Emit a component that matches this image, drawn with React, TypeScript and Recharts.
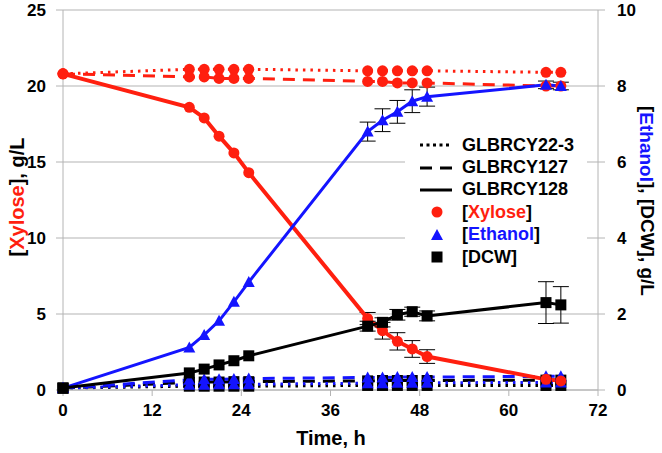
import React from 'react';
import { LineChart, Line, XAxis, YAxis, CartesianGrid, ErrorBar } from 'recharts';

const times = [0, 17, 19, 21, 23, 25, 41, 43, 45, 47, 49, 65, 67];

// [Xylose], g/L (left axis)
const xylose223 = [20.8, 21.1, 21.1, 21.1, 21.1, 21.1, 21.0, 21.0, 21.0, 21.0, 21.0, 20.9, 20.9];
const xylose127 = [20.8, 20.6, 20.6, 20.5, 20.5, 20.5, 20.3, 20.3, 20.2, 20.2, 20.2, 20.0, 20.0];
const xylose128 = [20.8, 18.6, 17.9, 16.7, 15.6, 14.3, 4.7, 3.9, 3.2, 2.7, 2.2, 0.7, 0.6];
const xylose128Err = [null, null, null, null, null, null, 0.4, 0.55, 0.57, 0.55, 0.45, null, null];

// [Ethanol], g/L (right axis)
const ethanol223 = [0.05, 0.14, 0.14, 0.15, 0.15, 0.15, 0.18, 0.18, 0.19, 0.19, 0.19, 0.2, 0.2];
const ethanol127 = [0.05, 0.27, 0.28, 0.28, 0.29, 0.3, 0.33, 0.33, 0.34, 0.34, 0.34, 0.36, 0.36];
const ethanol128 = [0.05, 1.12, 1.45, 1.82, 2.32, 2.84, 6.8, 7.1, 7.32, 7.6, 7.72, 8.03, 8.0];
const ethanol128Err = [null, null, null, null, null, null, 0.25, 0.3, 0.3, 0.3, 0.25, 0.1, 0.1];

// [DCW], g/L (right axis)
const dcw223 = [0.05, 0.1, 0.1, 0.1, 0.1, 0.1, 0.12, 0.12, 0.12, 0.12, 0.12, 0.12, 0.12];
const dcw127 = [0.05, 0.2, 0.21, 0.21, 0.22, 0.22, 0.24, 0.25, 0.25, 0.25, 0.25, 0.26, 0.26];
const dcw128 = [0.05, 0.45, 0.55, 0.66, 0.77, 0.9, 1.68, 1.78, 1.98, 2.06, 1.95, 2.3, 2.24];
const dcw128Err = [null, null, null, null, null, null, 0.13, 0.12, 0.14, 0.12, 0.13, 0.55, 0.48];

const xTicks = [0, 12, 24, 36, 48, 60, 72];
const leftTicks = [0, 5, 10, 15, 20, 25];
const rightTicks = [0, 2, 4, 6, 8, 10];

const strains = ['GLBRCY22-3', 'GLBRCY127', 'GLBRCY128'];

const data = times.map((t, i) => ({
  t,
  xylose223: xylose223[i],
  xylose127: xylose127[i],
  xylose128: xylose128[i],
  xylose128Err: xylose128Err[i],
  ethanol223: ethanol223[i],
  ethanol127: ethanol127[i],
  ethanol128: ethanol128[i],
  ethanol128Err: ethanol128Err[i],
  dcw223: dcw223[i],
  dcw127: dcw127[i],
  dcw128: dcw128[i],
  dcw128Err: dcw128Err[i],
}));

const RED = '#ff1f0f';
const BLUE = '#1414ff';
const BLACK = '#000000';
const GRAY = '#b4b4b4';
const FONT = '"Liberation Sans", Arial, sans-serif';

const circleDot = (p: any) => (
  <circle key={`c-${p.dataKey}-${p.index}`} cx={p.cx} cy={p.cy} r={5.5} fill={RED} />
);
const triDot = (p: any) => (
  <path
    key={`t-${p.dataKey}-${p.index}`}
    d={`M${p.cx},${p.cy - 6}L${p.cx + 6},${p.cy + 5}L${p.cx - 6},${p.cy + 5}Z`}
    fill={BLUE}
  />
);
const squareDot = (p: any) => (
  <rect key={`s-${p.dataKey}-${p.index}`} x={p.cx - 5.5} y={p.cy - 5.5} width={11} height={11} fill={BLACK} />
);

const tickStyle = { fill: '#000', fontSize: 17, fontWeight: 700, fontFamily: FONT };

function LegendBox() {
  const row = (icon: React.ReactNode, label: React.ReactNode) => (
    <div style={{ display: 'flex', alignItems: 'center', height: 22.4 }}>
      <svg width={42} height={14} style={{ flex: 'none' }}>{icon}</svg>
      <span>{label}</span>
    </div>
  );
  return (
    <div
      style={{
        position: 'absolute',
        left: 405,
        top: 134,
        width: 182,
        background: '#fff',
        fontFamily: FONT,
        fontWeight: 700,
        fontSize: 18,
        color: '#000',
        paddingLeft: 15,
        boxSizing: 'border-box',
      }}
    >
      {row(<line x1={0} y1={7} x2={32} y2={7} stroke="#000" strokeWidth={3} strokeDasharray="3 3.5" />, strains[0])}
      {row(<line x1={0} y1={7} x2={32} y2={7} stroke="#000" strokeWidth={3} strokeDasharray="12 8" />, strains[1])}
      {row(<line x1={0} y1={7} x2={32} y2={7} stroke="#000" strokeWidth={3} />, strains[2])}
      {row(<circle cx={17} cy={7} r={5.5} fill={RED} />, <>[<span style={{ color: RED }}>Xylose</span>]</>)}
      {row(<path d="M17,1L23,12L11,12Z" fill={BLUE} />, <>[<span style={{ color: BLUE }}>Ethanol</span>]</>)}
      {row(<rect x={11.5} y={1.5} width={11} height={11} fill={BLACK} />, '[DCW]')}
    </div>
  );
}

export default function App() {
  return (
    <div style={{ position: 'absolute', left: 0, top: 0, width: 662, height: 453, background: '#fff' }}>
      <LineChart width={662} height={453} data={data} margin={{ top: 10, right: 14, bottom: 13, left: 13 }}>
        <CartesianGrid yAxisId="left" horizontal vertical={false} stroke={GRAY} strokeWidth={1.2} />
        <XAxis
          dataKey="t"
          type="number"
          domain={[0, 72]}
          ticks={xTicks}
          height={50}
          stroke={GRAY}
          tickSize={6}
          tickMargin={8}
          tick={tickStyle}
          label={() => (
            <text x={331} y={445} textAnchor="middle" fontFamily={FONT} fontWeight={700} fontSize={20} fill="#000">
              Time, h
            </text>
          )}
        />
        <YAxis
          yAxisId="left"
          domain={[0, 25]}
          ticks={leftTicks}
          width={50}
          stroke={GRAY}
          tickSize={7}
          tickMargin={10}
          tick={tickStyle}
          label={() => (
            <text
              x={17}
              y={197}
              transform="rotate(-90 17 197)"
              textAnchor="middle"
              dominantBaseline="central"
              fontFamily={FONT}
              fontWeight={700}
              fontSize={20}
              fill="#000"
            >
              [<tspan fill={RED}>Xylose</tspan>], g/L
            </text>
          )}
        />
        <YAxis
          yAxisId="right"
          orientation="right"
          domain={[0, 10]}
          ticks={rightTicks}
          width={50}
          stroke={GRAY}
          tickSize={7}
          tickMargin={12}
          tick={tickStyle}
          label={() => (
            <text
              x={647}
              y={201}
              transform="rotate(90 647 201)"
              textAnchor="middle"
              dominantBaseline="central"
              fontFamily={FONT}
              fontWeight={700}
              fontSize={19}
              fill="#000"
            >
              [<tspan fill={BLUE}>Ethanol</tspan>], [DCW], g/L
            </text>
          )}
        />

        <Line yAxisId="right" dataKey="dcw223" stroke={BLACK} strokeWidth={3} strokeDasharray="2.5 5" dot={squareDot} isAnimationActive={false} />
        <Line yAxisId="right" dataKey="dcw127" stroke={BLACK} strokeWidth={3} strokeDasharray="12 8" dot={squareDot} isAnimationActive={false} />
        <Line yAxisId="right" dataKey="ethanol223" stroke={BLUE} strokeWidth={3} strokeDasharray="2.5 5" dot={triDot} isAnimationActive={false} />
        <Line yAxisId="right" dataKey="ethanol127" stroke={BLUE} strokeWidth={3} strokeDasharray="12 8" dot={triDot} isAnimationActive={false} />
        <Line yAxisId="left" dataKey="xylose223" stroke={RED} strokeWidth={3} strokeDasharray="2.5 5" dot={circleDot} isAnimationActive={false} />
        <Line yAxisId="left" dataKey="xylose127" stroke={RED} strokeWidth={3} strokeDasharray="12 8" dot={circleDot} isAnimationActive={false} />
        <Line yAxisId="left" dataKey="xylose128" stroke={RED} strokeWidth={4} dot={circleDot} isAnimationActive={false}>
          <ErrorBar dataKey="xylose128Err" direction="y" width={8} stroke="#000" strokeWidth={1} />
        </Line>
        <Line yAxisId="right" dataKey="ethanol128" stroke={BLUE} strokeWidth={3} dot={triDot} isAnimationActive={false}>
          <ErrorBar dataKey="ethanol128Err" direction="y" width={8} stroke="#000" strokeWidth={1} />
        </Line>
        <Line yAxisId="right" dataKey="dcw128" stroke={BLACK} strokeWidth={3} dot={squareDot} isAnimationActive={false}>
          <ErrorBar dataKey="dcw128Err" direction="y" width={8} stroke="#000" strokeWidth={1} />
        </Line>
      </LineChart>
      <LegendBox />
    </div>
  );
}
